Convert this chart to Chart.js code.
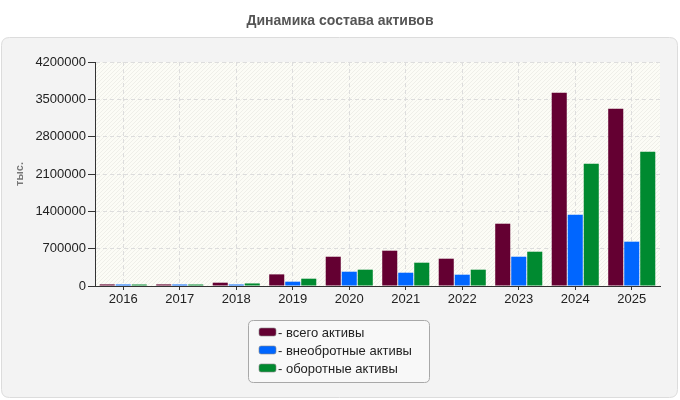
<!DOCTYPE html>
<html>
<head>
<meta charset="utf-8">
<script src="https://cdn.jsdelivr.net/npm/chart.js@4.4.1/dist/chart.umd.min.js"></script>
<style>
html,body{margin:0;padding:0;background:#fff;}
#wrap{width:680px;height:400px;position:relative;}
</style>
</head>
<body>
<div id="wrap"><canvas id="c" width="680" height="400"></canvas></div>
<script>
const chartTitle = 'Динамика состава активов';
const yAxisTitle = 'тыс.';
const years = ['2016','2017','2018','2019','2020','2021','2022','2023','2024','2025'];
const totalAssets = [30000, 30000, 62000, 218000, 549000, 662000, 512000, 1168000, 3624000, 3324000];
const nonCurrentAssets = [28000, 28000, 28000, 81000, 268000, 249000, 212000, 549000, 1337000, 831000];
const currentAssets = [28000, 28000, 48000, 137000, 306000, 437000, 306000, 643000, 2293000, 2518000];
const seriesLabels = ['всего активы', 'внеобротные активы', 'оборотные активы'];
const seriesColors = ['#640032', '#0066ff', '#008a30'];
const yMax = 4200000;
const yStep = 700000;

const FONT = 'Arial, "Liberation Sans", sans-serif';

function roundRect(ctx, x, y, w, h, r) {
  ctx.beginPath();
  ctx.moveTo(x + r, y);
  ctx.lineTo(x + w - r, y);
  ctx.quadraticCurveTo(x + w, y, x + w, y + r);
  ctx.lineTo(x + w, y + h - r);
  ctx.quadraticCurveTo(x + w, y + h, x + w - r, y + h);
  ctx.lineTo(x + r, y + h);
  ctx.quadraticCurveTo(x, y + h, x, y + h - r);
  ctx.lineTo(x, y + r);
  ctx.quadraticCurveTo(x, y, x + r, y);
  ctx.closePath();
}

const bgPlugin = {
  id: 'bg',
  beforeDraw(chart) {
    const ctx = chart.ctx;
    const a = chart.chartArea;
    ctx.save();
    roundRect(ctx, 1.5, 37.5, 676, 360, 8);
    ctx.fillStyle = '#f3f3f3';
    ctx.fill();
    ctx.strokeStyle = '#dcdcdc';
    ctx.lineWidth = 1;
    ctx.stroke();
    ctx.fillStyle = '#fcfcf6';
    ctx.fillRect(a.left, a.top, a.right - a.left, a.bottom - a.top);
    ctx.beginPath();
    ctx.rect(a.left, a.top, a.right - a.left, a.bottom - a.top);
    ctx.clip();
    ctx.strokeStyle = '#efefe9';
    ctx.lineWidth = 1;
    const H = a.bottom - a.top;
    for (let sx = a.left - H; sx < a.right + H; sx += 4) {
      ctx.beginPath();
      ctx.moveTo(sx, a.bottom);
      ctx.lineTo(sx + H, a.top);
      ctx.stroke();
    }
    ctx.restore();
    ctx.save();
    ctx.font = 'bold 14px ' + FONT;
    ctx.fillStyle = '#555';
    ctx.textAlign = 'center';
    ctx.textBaseline = 'middle';
    ctx.fillText(chartTitle, 340, 21);
    ctx.restore();
  },
  afterDraw(chart) {
    const ctx = chart.ctx;
    ctx.save();
    ctx.translate(20, 174);
    ctx.rotate(-Math.PI / 2);
    ctx.font = 'bold 11px ' + FONT;
    ctx.fillStyle = '#777';
    ctx.textAlign = 'center';
    ctx.textBaseline = 'middle';
    ctx.fillText(yAxisTitle, 0, 0);
    ctx.restore();
    ctx.save();
    roundRect(ctx, 248.5, 320.5, 181, 62, 5);
    ctx.fillStyle = '#f8f8f8';
    ctx.fill();
    ctx.strokeStyle = '#a8a8a8';
    ctx.lineWidth = 1;
    ctx.stroke();
    ctx.font = '13px ' + FONT;
    ctx.textBaseline = 'middle';
    chart.data.datasets.forEach((ds, i) => {
      const cy = 332 + i * 18;
      roundRect(ctx, 259, cy - 4, 17, 8, 2);
      ctx.fillStyle = ds.backgroundColor;
      ctx.fill();
      ctx.strokeStyle = '#888';
      ctx.lineWidth = 0.6;
      ctx.stroke();
      ctx.fillStyle = '#222';
      ctx.fillText('- ' + ds.label, 278, cy + 1);
    });
    ctx.restore();
  }
};

new Chart(document.getElementById('c'), {
  type: 'bar',
  data: {
    labels: years,
    datasets: [
      { label: seriesLabels[0], data: totalAssets, backgroundColor: seriesColors[0] },
      { label: seriesLabels[1], data: nonCurrentAssets, backgroundColor: seriesColors[1] },
      { label: seriesLabels[2], data: currentAssets, backgroundColor: seriesColors[2] }
    ]
  },
  options: {
    responsive: false,
    animation: false,
    devicePixelRatio: 1,
    layout: { padding: { left: 0, right: 20, top: 62, bottom: 0 } },
    datasets: { bar: { categoryPercentage: 0.85, barPercentage: 0.94 } },
    plugins: { legend: { display: false }, title: { display: false }, tooltip: { enabled: false } },
    scales: {
      x: {
        afterFit(s) { s.height = 114; },
        grid: { offset: false, color: '#dddddd', tickColor: '#333', tickLength: 4, drawTicks: true },
        border: { display: true, color: '#333', dash: [4, 3], width: 1 },
        ticks: { color: '#222', font: { family: FONT, size: 13 }, padding: 2 }
      },
      y: {
        min: 0, max: yMax,
        afterFit(s) { s.width = 95; },
        grid: { color: '#dddddd', tickColor: '#333', tickLength: 7 },
        border: { display: true, color: '#333', dash: [4, 3], width: 1 },
        ticks: { stepSize: yStep, color: '#222', font: { family: FONT, size: 13 }, padding: 2,
          callback: (v) => String(v) }
      }
    }
  },
  plugins: [bgPlugin]
});
</script>
</body>
</html>
